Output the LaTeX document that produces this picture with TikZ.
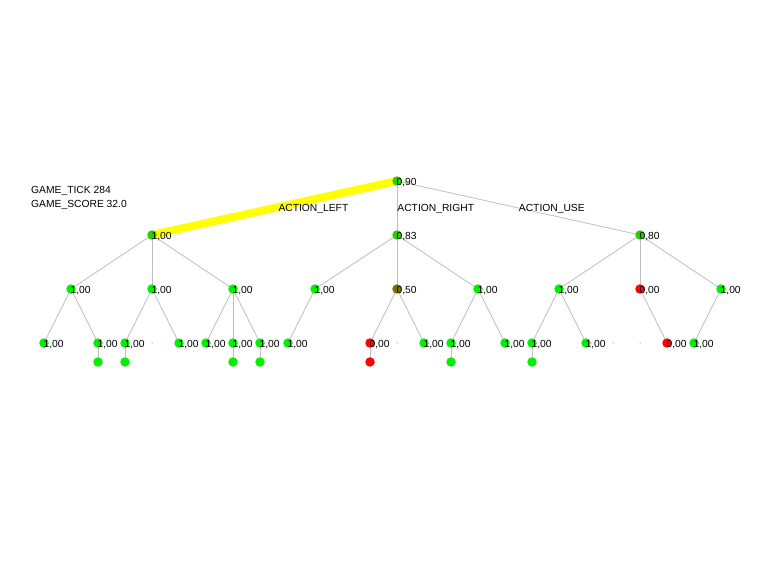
\documentclass[tikz,border=0pt]{standalone}
\usepackage{fontspec}
\setmainfont{Liberation Sans}
\usepackage{tikz}
\usetikzlibrary{backgrounds}
\definecolor{topgreen}{RGB}{45,205,5}
\definecolor{leafgreen}{RGB}{5,238,5}
\definecolor{deadred}{RGB}{250,5,5}
\definecolor{halfolive}{RGB}{128,112,0}
\definecolor{linkgray}{RGB}{190,190,190}
\definecolor{pickyellow}{RGB}{255,255,0}

\tikzset{
  visit/.style={shape=circle, fill=#1, inner sep=0pt, minimum size=9.5pt},
  stub/.style={shape=circle, fill=linkgray, inner sep=0pt, minimum size=1.5pt},
  val/.style={font=\fontsize{10.3}{12}\selectfont, inner sep=0pt, label distance=-5.5pt, yshift=-2pt},
  info/.style={font=\fontsize{10.3}{12}\selectfont, inner sep=0pt, anchor=west},
  act/.style={font=\fontsize{10.3}{12}\selectfont, inner sep=0pt, anchor=west, yshift=-1pt},
  link/.style={draw=linkgray, line width=0.8pt},
  chosen/.style={draw=pickyellow, line width=8pt}
}

\begin{document}
\begin{tikzpicture}[x=1pt, y=-1pt]
        \useasboundingbox (0,0) rectangle (784,561);

        \node[info] (tick) at (31,190.5) {GAME\_TICK 284};
        \node[info] (score) at (31,204.5) {GAME\_SCORE 32.0};

        \node[visit=topgreen, label={[val]0:0,90}] (r) at (397,181) {};

        \node[visit=topgreen, label={[val]0:1,00}] (a) at (152,235) {};
        \node[visit=topgreen, label={[val]0:0,83}] (b) at (397,235) {};
        \node[visit=topgreen, label={[val]0:0,80}] (c) at (640,235) {};

        \node[visit=leafgreen, label={[val]0:1,00}] (a1) at (71,289) {};
        \node[visit=leafgreen, label={[val]0:1,00}] (a2) at (152,289) {};
        \node[visit=leafgreen, label={[val]0:1,00}] (a3) at (233,289) {};
        \node[visit=leafgreen, label={[val]0:1,00}] (b1) at (315,289) {};
        \node[visit=halfolive, label={[val]0:0,50}] (b2) at (397,289) {};
        \node[visit=leafgreen, label={[val]0:1,00}] (b3) at (478,289) {};
        \node[visit=leafgreen, label={[val]0:1,00}] (c1) at (559,289) {};
        \node[visit=deadred, label={[val]0:0,00}] (c2) at (640,289) {};
        \node[visit=leafgreen, label={[val]0:1,00}] (c3) at (721,289) {};

        \node[visit=leafgreen, label={[val]0:1,00}] (a11) at (44,343) {};
        \node[visit=leafgreen, label={[val]0:1,00}] (a12) at (98,343) {};
        \node[visit=leafgreen, label={[val]0:1,00}] (a21) at (125,343) {};
        \node[stub] (a22) at (152,343) {};
        \node[visit=leafgreen, label={[val]0:1,00}] (a23) at (179,343) {};
        \node[visit=leafgreen, label={[val]0:1,00}] (a31) at (206,343) {};
        \node[visit=leafgreen, label={[val]0:1,00}] (a32) at (233,343) {};
        \node[visit=leafgreen, label={[val]0:1,00}] (a33) at (260,343) {};
        \node[visit=leafgreen, label={[val]0:1,00}] (b11) at (288,343) {};
        \node[visit=deadred, label={[val]0:0,00}] (b21) at (370,343) {};
        \node[stub] (b22) at (397,343) {};
        \node[visit=leafgreen, label={[val]0:1,00}] (b23) at (424,343) {};
        \node[visit=leafgreen, label={[val]0:1,00}] (b31) at (451,343) {};
        \node[visit=leafgreen, label={[val]0:1,00}] (b32) at (505,343) {};
        \node[visit=leafgreen, label={[val]0:1,00}] (c11) at (532,343) {};
        \node[visit=leafgreen, label={[val]0:1,00}] (c12) at (586,343) {};
        \node[stub] (c21) at (613,343) {};
        \node[stub] (c22) at (640,343) {};
        \node[visit=deadred, label={[val]0:0,00}] (c23) at (667,343) {};
        \node[visit=leafgreen, label={[val]0:1,00}] (c31) at (694,343) {};

        \node[visit=leafgreen] (a121) at (98,362) {};
        \node[visit=leafgreen] (a211) at (125,362) {};
        \node[visit=leafgreen] (a321) at (233,362) {};
        \node[visit=leafgreen] (a331) at (260,362) {};
        \node[visit=deadred] (b211) at (370,362) {};
        \node[visit=leafgreen] (b311) at (451,362) {};
        \node[visit=leafgreen] (c111) at (532,362) {};

        \begin{scope}[on background layer]
        \fill[white] (0,0) rectangle (784,561);

        %children of r
        \path[link] (r.center) edge (a.center);
        \draw[chosen] (r.center) -- (a.center) node[act, midway] {ACTION\_LEFT};
        \path[link] (r.center) edge node[act, midway] {ACTION\_RIGHT} (b.center);
        \path[link] (r.center) edge node[act, midway] {ACTION\_USE} (c.center);

        %children of a
        \path[link] (a.center) edge (a1.center);
        \path[link] (a.center) edge (a2.center);
        \path[link] (a.center) edge (a3.center);

        %children of b
        \path[link] (b.center) edge (b1.center);
        \path[link] (b.center) edge (b2.center);
        \path[link] (b.center) edge (b3.center);

        %children of c
        \path[link] (c.center) edge (c1.center);
        \path[link] (c.center) edge (c2.center);
        \path[link] (c.center) edge (c3.center);

        %third row
        \path[link] (a1.center) edge (a11.center);
        \path[link] (a1.center) edge (a12.center);
        \path[link] (a2.center) edge (a21.center);
        \path[link] (a2.center) edge (a23.center);
        \path[link] (a3.center) edge (a31.center);
        \path[link] (a3.center) edge (a32.center);
        \path[link] (a3.center) edge (a33.center);
        \path[link] (b1.center) edge (b11.center);
        \path[link] (b2.center) edge (b21.center);
        \path[link] (b2.center) edge (b23.center);
        \path[link] (b3.center) edge (b31.center);
        \path[link] (b3.center) edge (b32.center);
        \path[link] (c1.center) edge (c11.center);
        \path[link] (c1.center) edge (c12.center);
        \path[link] (c2.center) edge (c23.center);
        \path[link] (c3.center) edge (c31.center);

        %last row
        \path[link] (a12.center) edge (a121.center);
        \path[link] (a21.center) edge (a211.center);
        \path[link] (a32.center) edge (a321.center);
        \path[link] (a33.center) edge (a331.center);
        \path[link] (b21.center) edge (b211.center);
        \path[link] (b31.center) edge (b311.center);
        \path[link] (c11.center) edge (c111.center);
        \end{scope}
\end{tikzpicture}
\end{document}
